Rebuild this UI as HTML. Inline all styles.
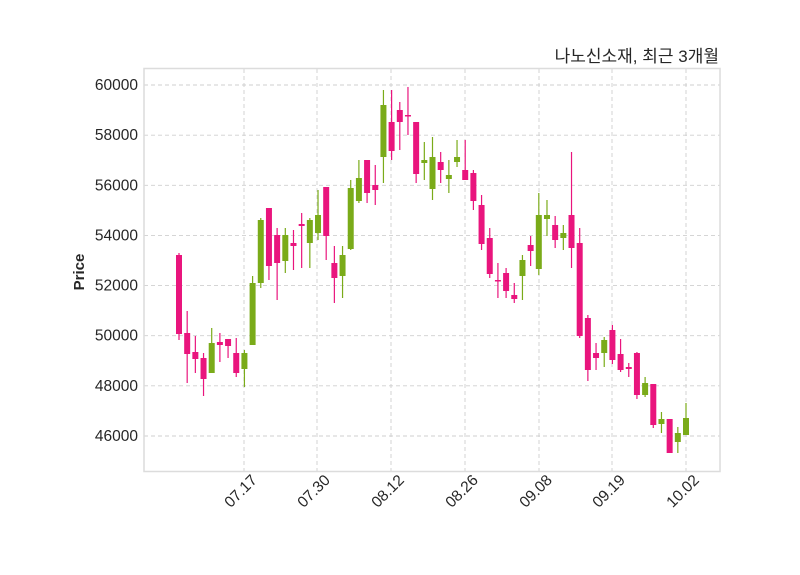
<!DOCTYPE html>
<html><head><meta charset="utf-8"><style>
html,body{margin:0;padding:0;background:#fff;width:800px;height:575px;overflow:hidden}
text{font-family:"Liberation Sans","Noto Sans CJK KR",sans-serif;fill:#262626}
</style></head><body>
<svg id="s" width="800" height="575" viewBox="0 0 800 575" xmlns="http://www.w3.org/2000/svg">
<rect x="0" y="0" width="800" height="575" fill="#fff"/>
<g id="grid" stroke="#cfcfcf" stroke-width="0.9" stroke-dasharray="4,3"></g>
<g id="c"></g>
<rect x="144" y="68.5" width="576" height="403" fill="none" stroke="#dcdcdc" stroke-width="1.5"/>
<g id="lab" font-size="15.5"></g>
<text x="719" y="62" text-anchor="end" font-size="17">나노신소재, 최근 3개월</text>
<text transform="translate(84,272) rotate(-90)" text-anchor="middle" font-size="15" font-weight="bold">Price</text>
</svg>
<script>
var NS="http://www.w3.org/2000/svg";
function el(p,t,a){var e=document.createElementNS(NS,t);for(var k in a)e.setAttribute(k,a[k]);p.appendChild(e);return e;}
var g=document.getElementById('grid'),lab=document.getElementById('lab'),c=document.getElementById('c');
for(var i=0;i<8;i++){var v=46000+i*2000;var y=436-(v-46000)*351/14000;
 el(g,'line',{x1:144,x2:720,y1:y,y2:y});
 var t=el(lab,'text',{x:138,y:y+5,'text-anchor':'end'});t.textContent=v;}
var xs=[244,317,391,465,539,612,686],ls=['07.17','07.30','08.12','08.26','09.08','09.19','10.02'];
for(var i=0;i<7;i++){el(g,'line',{x1:xs[i],x2:xs[i],y1:69,y2:471});
 var t=el(lab,'text',{x:0,y:0,'text-anchor':'end',transform:'translate('+(xs[i]+14)+',481) rotate(-45)'});t.textContent=ls[i];}
var d=[[255,334,253,340,0],[333,354,311,383,0],[352,359,336,373,0],[358,379,353,396,0],[343,373,328,373,1],[342,345,333,362,0],[339,346,339,358,0],[353,373,338,377,0],[353,369,350,387,1],[283,345,276,345,1],[220,283,218,288,1],[208,266,208,280,0],[235,263,228,300,0],[235,261,228,273,1],[243,246,230,270,0],[224,226,213,268,0],[220,243,218,268,1],[215,233,190,240,1],[187,236,187,260,0],[263,278,246,303,0],[255,276,246,298,1],[188,249,180,250,1],[178,201,160,203,1],[160,193,160,203,0],[185,190,165,205,0],[105,157,90,183,1],[122,151,90,160,0],[110,122,102,150,0],[115,116,87,135,0],[122,174,122,183,0],[160,163,142,180,1],[157,189,137,200,1],[162,170,152,183,0],[175,179,160,193,1],[157,162,140,167,1],[170,180,140,180,0],[173,201,170,210,0],[205,244,195,250,0],[238,274,228,278,0],[280,281,263,298,0],[273,291,268,298,0],[295,299,283,303,0],[260,276,255,300,1],[245,251,236,266,0],[215,269,193,275,1],[215,219,200,236,1],[225,240,216,248,0],[233,238,225,250,1],[215,248,152,268,0],[243,336,228,338,0],[318,370,315,381,0],[353,358,343,370,0],[340,353,337,367,1],[330,360,325,364,0],[354,370,339,372,0],[367,369,363,377,0],[353,395,352,399,0],[383,395,377,397,1],[384,425,384,428,0],[419,424,412,433,1],[419,453,419,453,0],[433,442,427,453,1],[418,435,403,435,1]];
for(var i=0;i<d.length;i++){var x=179+i*(686-179)/62,q=d[i],col=q[4]?'#7aab19':'#e9157d';
 el(c,'line',{x1:x,x2:x,y1:q[2],y2:q[3],stroke:col,'stroke-width':1.2});
 el(c,'rect',{x:x-3,y:q[0],width:6,height:Math.max(q[1]-q[0],1.5),fill:col});}
</script>
</body></html>
